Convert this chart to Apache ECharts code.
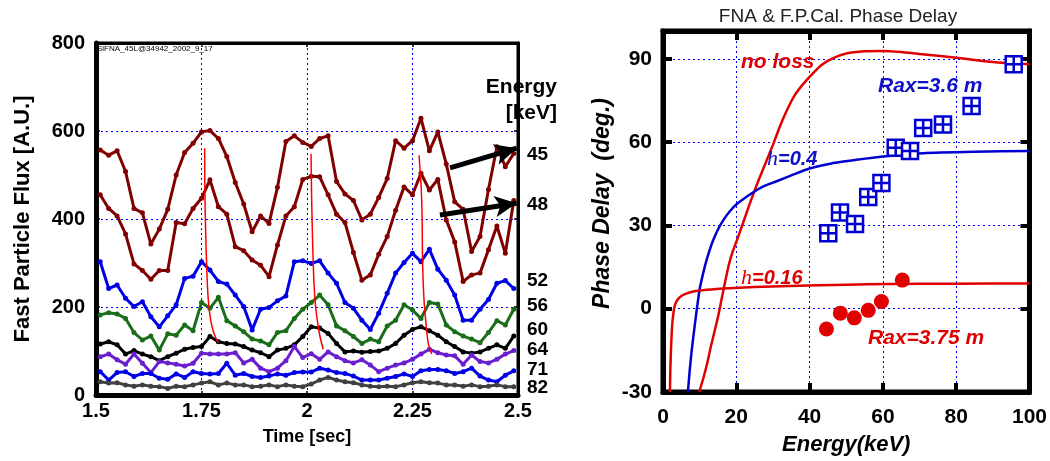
<!DOCTYPE html>
<html><head><meta charset="utf-8">
<script src="https://cdn.jsdelivr.net/npm/echarts@6/dist/echarts.min.js"></script>
<style>html,body{margin:0;padding:0;background:#fff}#c{width:1050px;height:461px}</style>
</head><body><div id="c"></div>
<script>
// ---------- Left panel data ----------
const times = [1.51,1.53,1.55,1.57,1.59,1.61,1.63,1.65,1.67,1.69,1.71,1.73,1.75,1.77,1.79,1.81,1.83,1.85,1.87,1.89,1.91,1.93,1.95,1.97,1.99,2.01,2.03,2.05,2.07,2.09,2.11,2.13,2.15,2.17,2.19,2.21,2.23,2.25,2.27,2.29,2.31,2.33,2.35,2.37,2.39,2.41,2.43,2.45,2.47,2.49];
const flux45 = [557,545,555,508,424,414,343,377,422,500,551,572,598,601,583,542,483,434,371,407,390,472,576,589,574,565,583,589,485,457,442,398,411,449,492,578,561,578,629,555,598,525,439,422,326,360,467,564,519,549];
const flux48 = [455,424,407,366,298,283,263,283,283,392,389,424,447,489,428,411,337,328,307,295,269,341,407,428,490,497,496,455,411,392,324,261,273,320,360,420,473,455,504,466,490,398,348,258,273,277,330,384,322,442];
const flux52 = [303,242,250,220,201,212,178,155,180,205,265,270,303,284,258,252,227,201,148,195,199,214,225,303,305,299,305,277,254,210,197,170,149,186,231,277,301,322,303,331,286,261,227,170,170,195,217,254,260,242];
const flux56 = [182,187,184,174,142,125,134,102,139,136,159,146,210,197,222,169,157,144,127,123,114,142,146,174,195,210,227,205,157,146,133,117,127,121,157,170,205,193,174,210,207,159,144,134,127,119,142,169,159,195];
const flux60 = [116,121,114,93,101,93,87,78,87,95,104,108,110,133,121,117,116,110,102,96,87,102,106,114,133,155,152,140,117,98,100,97,99,100,106,117,136,149,155,146,136,121,110,98,95,98,106,114,106,134];
const flux64 = [87,93,80,70,93,72,51,76,73,70,66,72,95,93,93,93,96,73,81,61,53,61,78,110,85,94,81,98,87,78,73,80,68,53,61,68,73,81,93,104,96,91,89,70,91,76,73,81,93,101];
const flux71 = [53,34,51,53,42,49,49,38,36,48,40,53,49,48,49,72,45,49,42,40,43,48,45,51,52,52,61,57,51,49,43,34,34,34,38,42,48,42,55,58,58,55,49,53,61,43,34,30,45,55];
const flux82 = [30,27,28,23,20,23,20,19,15,20,19,23,27,30,23,27,23,23,19,20,23,19,23,20,19,25,34,40,34,30,28,23,20,19,20,19,23,28,30,28,27,23,23,20,23,19,20,23,19,19];
const energyLabels = ['45','48','52','56','60','64','71','82'];
const lossT1 = [1.7575,1.7583,1.7623,1.7661,1.7718,1.7796,1.7898];
const lossV1 = [561,443,291,216,170,140,119];
const lossT2 = [2.0095,2.0111,2.0150,2.0190,2.0244,2.0308,2.0386];
const lossV2 = [548,443,292,216,170,133,104];
const lossT3 = [2.2655,2.2718,2.2741,2.2773,2.2820,2.2875,2.2955];
const lossV3 = [545,443,292,216,163,117,93];
const arrowFrom = [[2.339,516],[2.315,409]];
const arrowTo = [[2.497,561],[2.497,436]];
const leftXTicks = ['1.5','1.75','2','2.25','2.5'];

// ---------- Right panel data ----------
const noLossE = [9.9,11,12,13,14,15,16,17,18,19,20,22,24,26,28,30,32,34,36,38,40,43,46,50,55,60,65,70,80,90,100];
const noLossP = [-30,-25,-20,-14,-8.5,-3,3.5,10,16,20.5,24,31.5,39,46,52.5,59,66,72,77,80.5,83.5,87.5,90,91.9,92.7,92.8,92.4,91.7,90.4,88.8,88];
const h04E = [6.8,7.3,7.8,8.3,9,10,11,12,13.5,15,16.5,18.3,20,23.7,27,31,35,40,46,52.8,60,71,85,100];
const h04P = [-30,-22,-15.5,-9.9,-2.5,7,13,18,24,28.5,32,35.2,37.5,41.1,43.8,45.9,48,50.5,52.3,53.6,54.8,56,56.5,56.8];
const h016E = [1.9,2.0,2.2,2.5,2.9,3.3,4.0,5.0,6.5,8.3,12,16.4,25,34.6,50,61.9,80,100];
const h016P = [-30,-22,-14,-6,-1,1.5,3.3,4.6,5.5,6.2,6.8,7.3,7.8,8.2,8.6,8.9,9.0,9.1];
const rax36E = [45.1,48.3,52.4,56.0,59.6,63.5,67.4,71.0,76.4,84.2,95.7];
const rax36P = [27.2,34.6,30.5,40.2,45.3,58.0,56.8,65.1,66.3,73.0,88.0];
const rax375E = [44.6,48.4,52.2,56.0,59.6,65.3];
const rax375P = [-7.3,-1.6,-3.3,-0.6,2.6,10.3];

const FF = '"Liberation Sans", Arial, sans-serif';
const pairs = (xs, ys) => xs.map((x, i) => [x, ys[i]]);

const chart = echarts.init(document.getElementById('c'), null, {renderer: 'canvas'});

const fluxSeries = [
  [flux45, '#800000'], [flux48, '#800000'], [flux52, '#0000e6'], [flux56, '#1a6e1a'],
  [flux60, '#000000'], [flux64, '#6a1fcf'], [flux71, '#0000e6'], [flux82, '#404040']
].map(([vals, col], k) => ({
  type: 'line', xAxisIndex: 0, yAxisIndex: 0, name: energyLabels[k],
  data: pairs(times, vals), symbol: 'circle', symbolSize: 5,
  lineStyle: {color: col, width: 3}, itemStyle: {color: col}, z: 3
}));

fluxSeries[0].markLine = {
  silent: true, symbol: ['none', 'arrow'], symbolSize: [16, 22],
  lineStyle: {color: '#000', width: 5, type: 'solid'}, label: {show: false},
  data: arrowFrom.map((f, i) => [{coord: f}, {coord: arrowTo[i]}])
};

const lossSeries = [[lossT1, lossV1], [lossT2, lossV2], [lossT3, lossV3]].map(([t, v]) => ({
  type: 'line', xAxisIndex: 0, yAxisIndex: 0, data: pairs(t, v), symbol: 'none',
  smooth: 0.4, lineStyle: {color: '#ff0000', width: 1.5}, z: 4
}));

const blueSym = 'path://M0,0L16,0L16,16L0,16Z M8,0L8,16 M0,8L16,8';

const curve = (xs, ys, col) => ({type: 'line', xAxisIndex: 2, yAxisIndex: 2, data: pairs(xs, ys), symbol: 'none',
  smooth: 0.2, lineStyle: {color: col, width: 2.5}});

const rightSeries = [
  curve(noLossE, noLossP, '#e00000'),
  curve(h04E, h04P, '#0000d0'),
  curve(h016E, h016P, '#e00000'),
  {type: 'scatter', xAxisIndex: 2, yAxisIndex: 2, data: pairs(rax36E, rax36P), symbol: blueSym, symbolSize: 16,
    itemStyle: {color: '#ffffff', borderColor: '#0000d0', borderWidth: 2.5, opacity: 1}, z: 5},
  {type: 'scatter', xAxisIndex: 2, yAxisIndex: 2, data: pairs(rax375E, rax375P), symbol: 'circle', symbolSize: 15,
    itemStyle: {color: '#e00000', opacity: 1}, z: 5}
];

const gridLine = {show: true, lineStyle: {color: '#0000ff', width: 1, type: [2, 3]}};
const lbl = (extra) => Object.assign({color: '#000', fontWeight: 'bold', fontFamily: FF, fontSize: 20}, extra || {});

const option = {
  animation: false,
  backgroundColor: '#fff',
  grid: [
    {left: 96, top: 43, width: 422, height: 352, show: true, borderColor: '#000', borderWidth: 3, backgroundColor: 'transparent'},
    {left: 663, top: 31, width: 367, height: 365, show: true, borderColor: '#000', borderWidth: 5, backgroundColor: 'transparent'}
  ],
  xAxis: [
    {gridIndex: 0, type: 'value', min: 1.5, max: 2.5, interval: 0.25,
     axisLine: {onZero: false, lineStyle: {color: '#000', width: 5}},
     axisTick: {inside: true, length: 4, lineStyle: {color: '#000', width: 1.5}},
     axisLabel: lbl({margin: 6, formatter: (v) => leftXTicks[Math.round((v - 1.5) / 0.25)]}),
     splitLine: gridLine,
     name: 'Time [sec]', nameLocation: 'middle', nameGap: 33,
     nameTextStyle: {color: '#000', fontWeight: 'bold', fontFamily: FF, fontSize: 18}},
    {gridIndex: 0, type: 'value', position: 'top', min: 1.5, max: 2.5, interval: 0.25,
     axisLine: {onZero: false, lineStyle: {color: '#000', width: 3}},
     axisTick: {inside: true, length: 4, lineStyle: {color: '#000', width: 1.5}},
     axisLabel: {show: false}, splitLine: {show: false}},
    {gridIndex: 1, type: 'value', min: 0, max: 100, interval: 20,
     axisLine: {onZero: false, lineStyle: {color: '#000', width: 5}},
     axisTick: {inside: true, length: 9, lineStyle: {color: '#000', width: 4}},
     axisLabel: lbl({margin: 15, fontSize: 21}),
     splitLine: gridLine,
     name: 'Energy(keV)', nameLocation: 'middle', nameGap: 42,
     nameTextStyle: {color: '#000', fontWeight: 'bold', fontStyle: 'italic', fontFamily: FF, fontSize: 22}},
    {gridIndex: 1, type: 'value', position: 'top', min: 0, max: 100, interval: 20,
     axisLine: {onZero: false, lineStyle: {color: '#000', width: 5}},
     axisTick: {inside: true, length: 9, lineStyle: {color: '#000', width: 4}},
     axisLabel: {show: false}, splitLine: {show: false}}
  ],
  yAxis: [
    {gridIndex: 0, type: 'value', min: 0, max: 800, interval: 200,
     axisLine: {onZero: false, lineStyle: {color: '#000', width: 5}},
     axisTick: {inside: true, length: 4, lineStyle: {color: '#000', width: 1.5}},
     axisLabel: lbl({margin: 11}),
     splitLine: gridLine,
     name: 'Fast Particle Flux [A.U.]', nameLocation: 'middle', nameGap: 62,
     nameTextStyle: {color: '#000', fontWeight: 'bold', fontFamily: FF, fontSize: 22}},
    {gridIndex: 0, type: 'value', position: 'right', min: 0, max: 800, interval: 200,
     axisLine: {onZero: false, lineStyle: {color: '#000', width: 3}},
     axisTick: {inside: true, length: 4, lineStyle: {color: '#000', width: 1.5}},
     axisLabel: {show: false}, splitLine: {show: false}},
    {gridIndex: 1, type: 'value', min: -30, max: 100, interval: 30,
     axisLine: {onZero: false, lineStyle: {color: '#000', width: 5}},
     axisTick: {inside: true, length: 9, lineStyle: {color: '#000', width: 4}},
     axisLabel: lbl({margin: 11, fontSize: 21, showMaxLabel: false}),
     splitLine: gridLine,
     name: 'Phase Delay  (deg.)', nameLocation: 'middle', nameGap: 49,
     nameTextStyle: {color: '#000', fontWeight: 'bold', fontStyle: 'italic', fontFamily: FF, fontSize: 23, padding: [0, 0, 0, 16]}},
    {gridIndex: 1, type: 'value', position: 'right', min: -30, max: 100, interval: 30,
     axisLine: {onZero: false, lineStyle: {color: '#000', width: 5}},
     axisTick: {inside: true, length: 9, lineStyle: {color: '#000', width: 4}},
     axisLabel: {show: false}, splitLine: {show: false}}
  ],
  series: fluxSeries.concat(lossSeries, rightSeries),
  graphic: [
    {type: 'text', left: 97, top: 45, z: 10, style: {text: 'SiFNA_45L@34942_2002_9_17', font: '8px ' + FF, fill: '#000'}},
    {type: 'text', z: 10, style: {text: 'Energy', x: 557, y: 87, textAlign: 'right', textVerticalAlign: 'middle', font: 'bold 21px ' + FF, fill: '#000'}},
    {type: 'text', z: 10, style: {text: '[keV]', x: 557, y: 113, textAlign: 'right', textVerticalAlign: 'middle', font: 'bold 21px ' + FF, fill: '#000'}}
  ].concat([155, 205, 281, 306, 330, 350, 370, 388].map((y, k) => ({
    type: 'text', z: 10, style: {text: energyLabels[k], x: 527, y: y, textAlign: 'left', textVerticalAlign: 'middle', font: 'bold 19px ' + FF, fill: '#000'}
  }))).concat([
    {type: 'text', z: 10, style: {text: 'FNA & F.P.Cal. Phase Delay', x: 838, y: 17, textAlign: 'center', textVerticalAlign: 'middle', font: '19px ' + FF, fill: '#222'}},
    {type: 'text', z: 10, style: {text: 'no loss', x: 741, y: 62, textAlign: 'left', textVerticalAlign: 'middle', font: 'italic bold 21px ' + FF, fill: '#e00000'}},
    {type: 'text', z: 10, style: {text: 'Rax=3.6 m', x: 878, y: 86, textAlign: 'left', textVerticalAlign: 'middle', font: 'italic bold 21px ' + FF, fill: '#1010c8'}},
    {type: 'text', z: 10, style: {text: '{s|h}{t|=0.4}', x: 767, y: 159, textAlign: 'left', textVerticalAlign: 'middle', fill: '#1010c8',
      rich: {s: {font: 'italic 22px "Liberation Serif", serif', fill: '#1010c8'}, t: {font: 'italic bold 20px ' + FF, fill: '#1010c8'}}}},
    {type: 'text', z: 10, style: {text: '{s|h}{t|=0.16}', x: 741, y: 278, textAlign: 'left', textVerticalAlign: 'middle', fill: '#e00000',
      rich: {s: {font: 'italic 22px "Liberation Serif", serif', fill: '#e00000'}, t: {font: 'italic bold 20px ' + FF, fill: '#e00000'}}}},
    {type: 'text', z: 10, style: {text: 'Rax=3.75 m', x: 868, y: 338, textAlign: 'left', textVerticalAlign: 'middle', font: 'italic bold 21px ' + FF, fill: '#e00000'}}
  ])
};
chart.setOption(option);
</script></body></html>
